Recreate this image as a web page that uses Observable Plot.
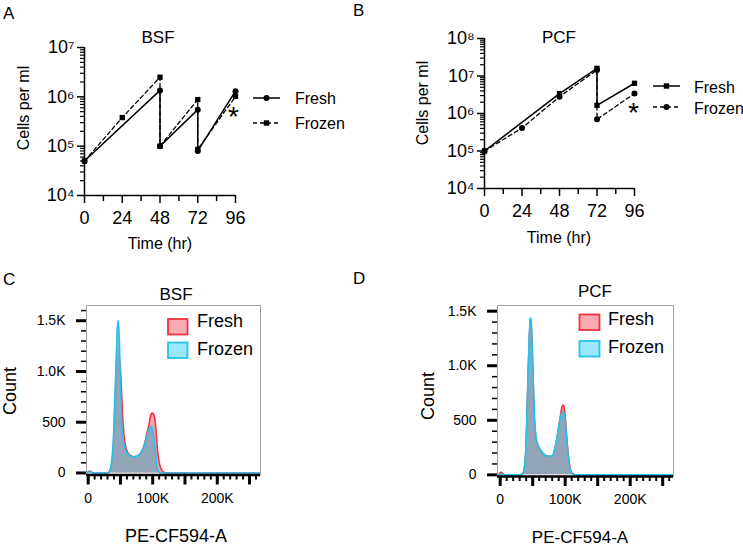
<!DOCTYPE html>
<html>
<head>
<meta charset="utf-8">
<script src="https://cdn.jsdelivr.net/npm/d3@7"></script>
<script src="https://cdn.jsdelivr.net/npm/@observablehq/plot@0.6"></script>
<style>
  html, body { margin: 0; padding: 0; background: #fff; }
  #fig { position: relative; width: 743px; height: 548px; overflow: hidden; background: #fff;
         font-family: "Liberation Sans", Arial, Helvetica, sans-serif; color: #000; }
  .abs { position: absolute; }
  #overlay { position: absolute; left: 0; top: 0; pointer-events: none; }
</style>
</head>
<body>
<div id="fig"></div>
<script>
const FONT = '"Liberation Sans", Arial, Helvetica, sans-serif';

// ---------- Growth curves (A: BSF, B: PCF) ----------
const hourTicks = [0, 24, 48, 72, 96];
const hourMinorTicks = [12, 36, 60, 84];

const bsfFreshHours  = [0, 48, 48, 72, 72, 96];
const bsfFreshCells  = [5e4, 1.35e6, 1e5, 5.5e5, 8e4, 1.3e6];
const bsfFrozenHours = [0, 24, 48, 48, 72, 72, 96];
const bsfFrozenCells = [5e4, 3.8e5, 2.5e6, 1e5, 8.8e5, 8.6e4, 1.02e6];

const pcfFreshHours  = [0, 48, 72, 72, 96];
const pcfFreshCells  = [1e5, 3.4e6, 1.6e7, 1.65e6, 6.4e6];
const pcfFrozenHours = [0, 24, 48, 72, 72, 96];
const pcfFrozenCells = [1e5, 4.1e5, 2.8e6, 1.45e7, 7e5, 3.4e6];

const bsfCellTicks = [1e4, 1e5, 1e6, 1e7];
const pcfCellTicks = [1e4, 1e5, 1e6, 1e7, 1e8];

// ---------- Flow histograms (C: BSF, D: PCF), PE-CF594-A in thousands ----------
const bsfHistX = [-2.5, 0, 2, 4, 6, 10, 30, 33, 36, 39, 42, 44, 46, 47, 48, 50, 52, 54, 57, 61,
                  65, 70, 75, 80, 85, 88, 91, 94, 96, 98, 100, 102, 104, 106, 108, 110, 113, 117, 125, 265];
const bsfHistFresh = [0, 10, 20, 15, 5, 0, 0, 10, 60, 250, 580, 870, 1070, 1140, 1130, 1020, 760, 490, 295, 205,
                      175, 160, 165, 185, 240, 300, 390, 470, 540, 585, 590, 570, 500, 340, 190, 105, 40, 8, 0, 0];
const bsfHistFrozen = [0, 8, 15, 10, 3, 0, 0, 20, 95, 330, 860, 1220, 1500, 1470, 1360, 900, 480, 340, 250, 190,
                       170, 160, 165, 180, 230, 290, 360, 425, 452, 455, 420, 330, 215, 92, 35, 8, 0, 0, 0, 0];

const pcfHistX = [-4, -1, 1.5, 4, 7, 30, 34, 37, 40, 42.5, 45, 46.5, 47.5, 49, 51, 53, 55, 58, 62, 66,
                  70, 75, 80, 84, 87, 90, 93, 95, 97, 99, 101, 103, 105, 107, 109, 112, 116, 265];
const pcfHistFresh = [0, 10, 24, 12, 0, 0, 5, 50, 280, 800, 1280, 1430, 1400, 1200, 800, 460, 320, 250, 205, 180,
                      168, 165, 165, 230, 320, 430, 550, 620, 640, 600, 460, 300, 170, 80, 30, 8, 0, 0];
const pcfHistFrozen = [0, 3, 6, 3, 0, 0, 8, 60, 320, 840, 1300, 1440, 1420, 1230, 840, 520, 360, 280, 235, 200,
                       180, 172, 175, 240, 330, 440, 530, 570, 578, 545, 430, 280, 150, 65, 20, 5, 0, 0];

const peTicks = [0, 50000, 100000, 150000, 200000, 250000];
const countTicks = [0, 500, 1000, 1500];

// ---------- colours ----------
const PINK = "#f7a4ab", RED = "#f0343f", STEEL = "#8aa5ba", CYAN = "#22c3ee";
const LEG_PINK = "#f9abb1", LEG_CYAN = "#9ae6fb";

const SUP = {"0":"\u2070","1":"\u00b9","2":"\u00b2","3":"\u00b3","4":"\u2074","5":"\u2075","6":"\u2076","7":"\u2077","8":"\u2078","9":"\u2079"};
const pow10 = v => "10" + String(Math.round(Math.log10(v))).split("").map(c => SUP[c]).join("");
const blank = () => "";
const fmtPE = v => (v % 100000 === 0 ? (v === 0 ? "0" : (v / 1000) + "K") : "");
const fmtCount = v => (v >= 1000 ? (v / 1000).toFixed(1) + "K" : String(v));

const fig = document.getElementById("fig");
function place(node, left, top) {
  const d = document.createElement("div");
  d.className = "abs";
  d.style.left = left + "px";
  d.style.top = top + "px";
  d.appendChild(node);
  fig.appendChild(d);
}

function growthPlot(o) {
  const fresh = o.freshH.map((h, i) => ({hour: h, cells: o.freshC[i]}));
  const frozen = o.frozenH.map((h, i) => ({hour: h, cells: o.frozenC[i]}));
  const minor = [];
  for (let i = 0; i < o.yTicks.length - 1; i++) for (let m = 2; m <= 9; m++) minor.push(m * o.yTicks[i]);
  return Plot.plot({
    width: o.width, height: o.height,
    marginLeft: o.ml, marginRight: o.mr, marginTop: o.mt, marginBottom: o.mb,
    style: {fontFamily: FONT, fontSize: "18px", background: "transparent", overflow: "visible", color: "black"},
    x: {domain: [hourTicks[0], hourTicks[hourTicks.length - 1]], label: null},
    y: {type: "log", domain: [o.yTicks[0], o.yTicks[o.yTicks.length - 1]], label: null},
    marks: [
      Plot.axisX(hourMinorTicks, {tickSize: 6, strokeWidth: 1.5, tickFormat: blank, label: null}),
      Plot.axisX(hourTicks, {tickSize: 8, strokeWidth: 1.5, tickPadding: 8, fontSize: 18, label: null}),
      Plot.axisY(minor, {tickSize: 4, strokeWidth: 1.2, tickFormat: blank, label: null}),
      Plot.axisY(o.yTicks, {tickSize: 7, strokeWidth: 1.5, tickPadding: 3, fontSize: 18, tickFormat: pow10, label: null}),
      Plot.ruleX([hourTicks[0]], {strokeWidth: 1.5}),
      Plot.ruleY([o.yTicks[0]], {strokeWidth: 1.5}),
      Plot.line(frozen, {x: "hour", y: "cells", strokeWidth: 1.3, strokeDasharray: "4,3"}),
      Plot.line(fresh, {x: "hour", y: "cells", strokeWidth: 1.5}),
      Plot.dot(frozen, {x: "hour", y: "cells", r: 3, fill: "black", symbol: o.frozenSymbol}),
      Plot.dot(fresh, {x: "hour", y: "cells", r: 3, fill: "black", symbol: o.freshSymbol}),
      Plot.text(frozen.slice(-1), {x: "hour", y: "cells", text: () => "*", fontSize: 28, dx: o.starDx, dy: o.starDy})
    ]
  });
}

function histPlot(o) {
  const fresh = o.xs.map((x, i) => ({pe: x * 1000, count: o.fresh[i]}));
  const frozen = o.xs.map((x, i) => ({pe: x * 1000, count: o.frozen[i]}));
  const xMinor = d3.range(0, 260001, 10000);
  const yMinor = d3.range(0, o.yDomain[1], 100);
  return Plot.plot({
    width: o.width, height: o.height,
    marginLeft: o.ml, marginRight: o.mr, marginTop: o.mt, marginBottom: o.mb,
    style: {fontFamily: FONT, fontSize: "14px", background: "transparent", overflow: "visible", color: "black"},
    x: {domain: o.xDomain, label: null},
    y: {domain: o.yDomain, label: null},
    marks: [
      Plot.areaY(fresh, {x: "pe", y: "count", fill: PINK, curve: "monotone-x"}),
      Plot.lineY(fresh, {x: "pe", y: "count", stroke: RED, strokeWidth: 1.6, curve: "monotone-x"}),
      Plot.areaY(frozen, {x: "pe", y: "count", fill: STEEL, fillOpacity: 0.92, curve: "monotone-x"}),
      Plot.lineY(frozen, {x: "pe", y: "count", stroke: CYAN, strokeWidth: 1.6, curve: "monotone-x"}),
      Plot.frame({stroke: "#a0a0a0", strokeWidth: 1}),
      Plot.ruleY([o.yDomain[0]], {strokeWidth: 2.5}),
      Plot.axisX(xMinor, {tickSize: 5, strokeWidth: 2, tickFormat: blank, label: null}),
      Plot.axisX(peTicks, {tickSize: 10, strokeWidth: 3, tickPadding: 8, fontSize: 14, tickFormat: fmtPE, label: null}),
      Plot.axisY(yMinor, {tickSize: 5, strokeWidth: 1.5, tickFormat: blank, label: null}),
      Plot.axisY(countTicks, {tickSize: 10, strokeWidth: 3, tickPadding: 11, fontSize: 14, tickFormat: fmtCount, label: null})
    ]
  });
}

place(growthPlot({
  freshH: bsfFreshHours, freshC: bsfFreshCells, frozenH: bsfFrozenHours, frozenC: bsfFrozenCells,
  yTicks: bsfCellTicks, freshSymbol: "circle", frozenSymbol: "square",
  width: 360, height: 260, ml: 84, mr: 125, mt: 47, mb: 65, starDx: -2, starDy: 21
}), 0, 0);

place(growthPlot({
  freshH: pcfFreshHours, freshC: pcfFreshCells, frozenH: pcfFrozenHours, frozenC: pcfFrozenCells,
  yTicks: pcfCellTicks, freshSymbol: "square", frozenSymbol: "circle",
  width: 383, height: 260, ml: 124, mr: 109, mt: 38, mb: 72, starDx: -1, starDy: 19
}), 360, 0);

place(histPlot({
  xs: bsfHistX, fresh: bsfHistFresh, frozen: bsfHistFrozen,
  xDomain: [-2600, 267000], yDomain: [-20, 1650],
  width: 280, height: 278, ml: 86, mr: 20, mt: 35, mb: 73.5
}), 0, 270);

place(histPlot({
  xs: pcfHistX, fresh: pcfHistFresh, frozen: pcfHistFrozen,
  xDomain: [-4100, 266600], yDomain: [-15, 1552],
  width: 353, height: 278, ml: 107, mr: 70, mt: 35, mb: 72
}), 390, 270);

// ---------- overlay: panel letters, titles, axis titles, legends ----------
const t = (x, y, s, size, anchor = "start", extra = "") =>
  `<text x="${x}" y="${y}" font-size="${size}" text-anchor="${anchor}" ${extra}>${s}</text>`;
const rt = (x, y, s, size) =>
  `<text transform="translate(${x},${y}) rotate(-90)" font-size="${size}" text-anchor="middle">${s}</text>`;

const overlay = `
<svg id="overlay" width="743" height="548" font-family='${FONT}' fill="black">
  ${t(3, 19, "A", 17)}
  ${t(353, 16, "B", 17)}
  ${t(3, 285, "C", 17)}
  ${t(353, 284, "D", 17)}

  ${t(158, 43, "BSF", 17, "middle")}
  ${t(559, 43, "PCF", 17, "middle")}
  ${t(176, 300, "BSF", 17, "middle")}
  ${t(595, 297, "PCF", 17, "middle")}

  ${rt(29, 108, "Cells per ml", 16)}
  ${t(160, 249, "Time (hr)", 16, "middle")}
  ${rt(428, 103, "Cells per ml", 16)}
  ${t(559, 243, "Time (hr)", 16, "middle")}

  ${rt(16, 391, "Count", 18)}
  ${t(176, 542, "PE-CF594-A", 18, "middle")}
  ${rt(434, 396, "Count", 18)}
  ${t(580, 543, "PE-CF594-A", 17, "middle")}

  <!-- legend A -->
  <line x1="253" y1="98" x2="280" y2="98" stroke="black" stroke-width="1.5"/>
  <circle cx="266.5" cy="98" r="3" fill="black"/>
  <line x1="253" y1="123" x2="280" y2="123" stroke="black" stroke-width="1.3" stroke-dasharray="4,3"/>
  <rect x="263.8" y="120.3" width="5.4" height="5.4" fill="black"/>
  ${t(295, 104, "Fresh", 16)}
  ${t(295, 129, "Frozen", 16)}

  <!-- legend B -->
  <line x1="653" y1="86" x2="680" y2="86" stroke="black" stroke-width="1.5"/>
  <rect x="663.8" y="83.3" width="5.4" height="5.4" fill="black"/>
  <line x1="653" y1="107" x2="680" y2="107" stroke="black" stroke-width="1.3" stroke-dasharray="4,3"/>
  <circle cx="666.5" cy="107" r="3" fill="black"/>
  ${t(694, 92.5, "Fresh", 16)}
  ${t(694, 113.5, "Frozen", 16)}

  <!-- legend C -->
  <rect x="168" y="319" width="19.5" height="15.5" fill="${LEG_PINK}" stroke="${RED}" stroke-width="1.8"/>
  <rect x="168" y="342.5" width="19.5" height="15.5" fill="${LEG_CYAN}" stroke="${CYAN}" stroke-width="1.8"/>
  ${t(197, 327, "Fresh", 18)}
  ${t(197, 355, "Frozen", 18)}

  <!-- legend D -->
  <rect x="579.5" y="314.5" width="20" height="15.5" fill="${LEG_PINK}" stroke="${RED}" stroke-width="1.8"/>
  <rect x="579.5" y="341" width="20" height="15.5" fill="${LEG_CYAN}" stroke="${CYAN}" stroke-width="1.8"/>
  ${t(608, 325, "Fresh", 18)}
  ${t(608, 353, "Frozen", 18)}
</svg>`;
fig.insertAdjacentHTML("beforeend", overlay);
</script>
</body>
</html>
